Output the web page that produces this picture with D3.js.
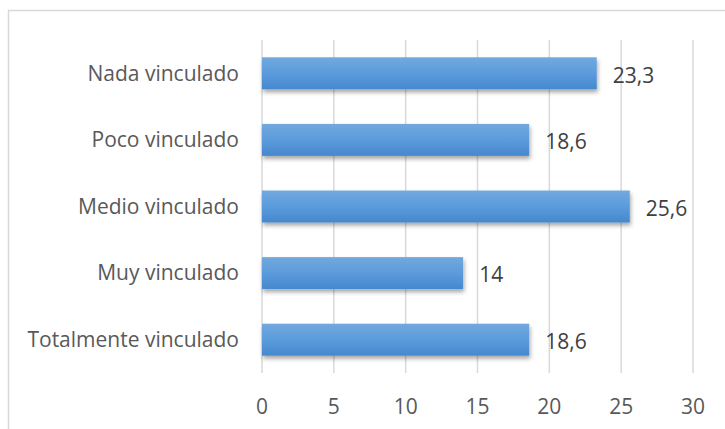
<!DOCTYPE html>
<html><head><meta charset="utf-8">
<script src="https://cdn.jsdelivr.net/npm/d3@7"></script>
<style>body{margin:0;background:#fff}svg{display:block}</style>
</head><body>
<script>
const categories = ["Nada vinculado","Poco vinculado","Medio vinculado","Muy vinculado","Totalmente vinculado"];
const values = [23.3, 18.6, 25.6, 14, 18.6];
const valueLabels = ["23,3","18,6","25,6","14","18,6"];
const ticks = [0,5,10,15,20,25,30];

const W=725,H=429;
const svg=d3.select("body").append("svg").attr("width",W).attr("height",H);
const defs=svg.append("defs");
const g=defs.append("linearGradient").attr("id","bg").attr("x1",0).attr("y1",0).attr("x2",0).attr("y2",1);
g.append("stop").attr("offset","0%").attr("stop-color","#72a9de");
g.append("stop").attr("offset","50%").attr("stop-color","#5b9bdc");
g.append("stop").attr("offset","100%").attr("stop-color","#4688cd");
const f=defs.append("filter").attr("id","sh").attr("x","-5%").attr("y","-30%").attr("width","110%").attr("height","180%");
f.append("feDropShadow").attr("dx",1).attr("dy",3).attr("stdDeviation",2).attr("flood-color","#000").attr("flood-opacity",0.35);

svg.append("rect").attr("x",8.5).attr("y",10.5).attr("width",W).attr("height",H).attr("fill","none").attr("stroke","#d9d9d9").attr("stroke-width",1.5);

const x=d3.scaleLinear().domain([0,30]).range([262,693]);
const y=d3.scaleBand().domain(categories).range([40,373]).paddingInner(0.52).paddingOuter(0.26);

svg.append("g").selectAll("line").data(ticks).join("line")
 .attr("x1",d=>x(d)).attr("x2",d=>x(d)).attr("y1",40).attr("y2",373)
 .attr("stroke","#d9d9d9").attr("stroke-width",1.5);

svg.append("g").selectAll("rect").data(values).join("rect")
 .attr("x",x(0)).attr("y",(d,i)=>y(categories[i])).attr("width",d=>x(d)-x(0)).attr("height",y.bandwidth())
 .attr("fill","url(#bg)").attr("filter","url(#sh)");

const font="'Open Sans', sans-serif";
svg.append("g").selectAll("text").data(categories).join("text")
 .attr("x",239).attr("y",d=>y(d)+y.bandwidth()/2).attr("dy","0.35em").attr("text-anchor","end")
 .attr("font-family",font).attr("font-size",21).attr("fill","#595959").text(d=>d);

svg.append("g").selectAll("text").data(values).join("text")
 .attr("x",d=>x(d)+16).attr("y",(d,i)=>y(categories[i])+y.bandwidth()/2+2).attr("dy","0.35em")
 .attr("font-family",font).attr("font-size",21).attr("fill","#404040").text((d,i)=>valueLabels[i]);

svg.append("g").selectAll("text").data(ticks).join("text")
 .attr("x",d=>x(d)).attr("y",407).attr("dy","0.35em").attr("text-anchor","middle")
 .attr("font-family",font).attr("font-size",21).attr("fill","#595959").text(d=>d);
</script>
</body></html>
